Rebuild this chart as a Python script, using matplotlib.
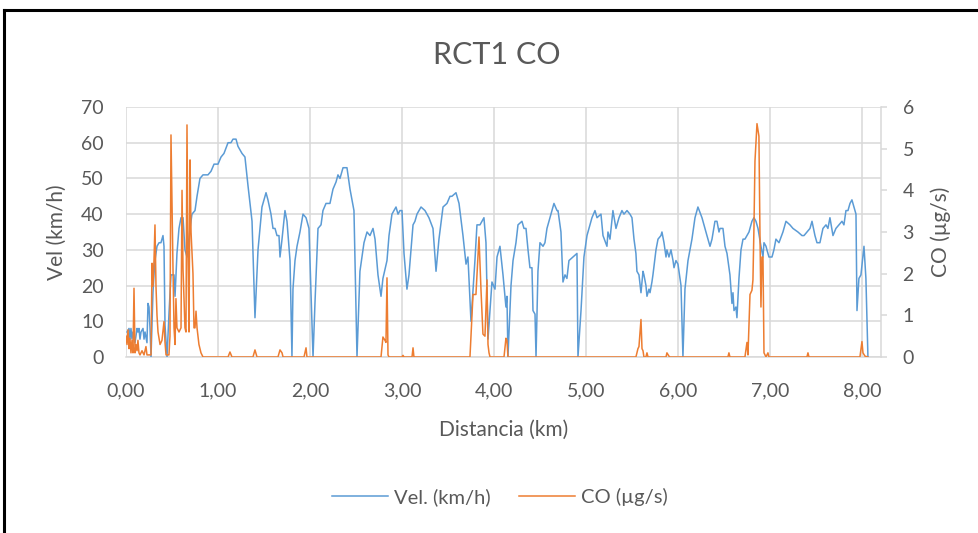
import matplotlib
matplotlib.use("Agg")
import matplotlib.pyplot as plt
from matplotlib.lines import Line2D

plt.rcParams['font.family'] = ['Lato', 'DejaVu Sans']

# Speed profile along the route
vel_km = [0.011, 0.033, 0.043, 0.054, 0.065, 0.076, 0.098, 0.120, 0.130, 0.141, 0.152, 0.163, 0.185, 0.196,
          0.207, 0.228, 0.239, 0.250, 0.261, 0.272, 0.293, 0.304, 0.315, 0.337, 0.359, 0.380, 0.402, 0.413,
          0.424, 0.446, 0.467, 0.489, 0.522, 0.533, 0.554, 0.576, 0.598, 0.620, 0.641, 0.663, 0.696, 0.717,
          0.750, 0.772, 0.804, 0.837, 0.891, 0.924, 0.957, 1.000, 1.033, 1.065, 1.109, 1.141, 1.163, 1.196,
          1.217, 1.261, 1.293, 1.326, 1.370, 1.402, 1.435, 1.478, 1.522, 1.543, 1.576, 1.598, 1.620, 1.641,
          1.663, 1.674, 1.696, 1.728, 1.750, 1.783, 1.804, 1.815, 1.837, 1.859, 1.891, 1.924, 1.957, 1.989,
          2.033, 2.054, 2.087, 2.120, 2.141, 2.174, 2.217, 2.250, 2.283, 2.304, 2.326, 2.359, 2.402, 2.435,
          2.478, 2.511, 2.543, 2.565, 2.587, 2.620, 2.652, 2.685, 2.707, 2.739, 2.772, 2.793, 2.837, 2.859,
          2.891, 2.935, 2.957, 2.978, 3.000, 3.022, 3.054, 3.076, 3.120, 3.141, 3.163, 3.207, 3.250, 3.293,
          3.337, 3.370, 3.402, 3.446, 3.489, 3.522, 3.543, 3.587, 3.620, 3.663, 3.696, 3.717, 3.750, 3.793,
          3.815, 3.848, 3.891, 3.913, 3.935, 3.978, 4.011, 4.033, 4.065, 4.098, 4.130, 4.141, 4.152, 4.185,
          4.207, 4.239, 4.261, 4.304, 4.326, 4.348, 4.370, 4.391, 4.413, 4.424, 4.446, 4.457, 4.478, 4.500,
          4.533, 4.554, 4.576, 4.609, 4.652, 4.685, 4.696, 4.728, 4.750, 4.772, 4.793, 4.815, 4.859, 4.902,
          4.913, 4.946, 4.978, 5.011, 5.065, 5.098, 5.120, 5.163, 5.185, 5.228, 5.239, 5.261, 5.293, 5.326,
          5.359, 5.391, 5.413, 5.446, 5.478, 5.500, 5.522, 5.543, 5.554, 5.576, 5.598, 5.620, 5.630, 5.652,
          5.663, 5.685, 5.696, 5.717, 5.728, 5.761, 5.783, 5.815, 5.826, 5.848, 5.870, 5.880, 5.902, 5.924,
          5.946, 5.957, 5.978, 6.000, 6.033, 6.054, 6.076, 6.109, 6.152, 6.185, 6.217, 6.261, 6.293, 6.315,
          6.348, 6.370, 6.402, 6.424, 6.446, 6.457, 6.489, 6.511, 6.533, 6.565, 6.587, 6.598, 6.609, 6.630,
          6.641, 6.663, 6.685, 6.707, 6.728, 6.750, 6.772, 6.804, 6.826, 6.848, 6.870, 6.902, 6.924, 6.935,
          6.957, 6.967, 6.989, 7.022, 7.043, 7.065, 7.098, 7.141, 7.174, 7.217, 7.250, 7.304, 7.348, 7.370,
          7.402, 7.435, 7.457, 7.489, 7.511, 7.543, 7.576, 7.609, 7.630, 7.652, 7.685, 7.717, 7.750, 7.783,
          7.804, 7.826, 7.848, 7.870, 7.891, 7.935, 7.946, 7.967, 7.989, 8.022, 8.043, 8.065]
vel_kmh = [7, 8, 5, 8, 5, 7, 4, 8, 7, 8, 5, 7, 8, 5,
           7, 4, 15, 14, 8, 0, 18, 23, 27, 31, 32, 32, 34, 31,
           9, 0, 12, 23, 23, 17, 29, 36, 39, 39, 30, 28, 36, 40,
           41, 45, 50, 51, 51, 52, 54, 54, 56, 57, 60, 60, 61, 61,
           59, 57, 56, 48, 38, 11, 30, 42, 46, 44, 40, 36, 36, 34,
           34, 28, 33, 41, 38, 27, 0, 19, 27, 31, 35, 40, 39, 36,
           0, 15, 36, 37, 41, 43, 43, 47, 49, 51, 50, 53, 53, 47,
           41, 0, 24, 28, 32, 35, 34, 36, 33, 23, 17, 22, 27, 34,
           40, 42, 40, 41, 41, 29, 19, 23, 37, 38, 40, 42, 41, 39,
           36, 24, 33, 42, 43, 45, 45, 46, 43, 34, 26, 28, 10, 27,
           37, 37, 39, 32, 5, 21, 19, 28, 31, 23, 14, 17, 0, 20,
           27, 32, 37, 38, 36, 36, 30, 25, 25, 13, 12, 0, 24, 32,
           31, 32, 36, 39, 43, 41, 41, 35, 21, 23, 22, 27, 28, 29,
           0, 13, 28, 34, 39, 41, 39, 40, 34, 31, 35, 33, 41, 36,
           39, 41, 40, 41, 40, 39, 33, 29, 24, 23, 18, 24, 23, 20,
           17, 19, 18, 21, 23, 30, 33, 34, 35, 32, 28, 30, 28, 30,
           27, 25, 27, 26, 20, 0, 19, 27, 33, 39, 42, 39, 36, 34,
           31, 33, 38, 38, 35, 36, 36, 31, 29, 23, 15, 18, 13, 14,
           11, 22, 30, 33, 33, 34, 35, 38, 39, 38, 36, 31, 28, 32,
           31, 30, 28, 28, 30, 33, 32, 35, 38, 37, 36, 35, 34, 34,
           35, 36, 38, 34, 32, 32, 36, 37, 36, 39, 34, 36, 37, 38,
           37, 41, 41, 43, 44, 40, 13, 22, 23, 31, 22, 0]

# CO emission rate along the route
co_km = [0.000, 0.011, 0.022, 0.033, 0.043, 0.054, 0.065, 0.076, 0.087, 0.098, 0.109, 0.120, 0.130, 0.141,
         0.152, 0.174, 0.196, 0.217, 0.228, 0.272, 0.283, 0.293, 0.304, 0.315, 0.326, 0.337, 0.348, 0.370,
         0.391, 0.413, 0.424, 0.435, 0.467, 0.478, 0.489, 0.511, 0.522, 0.533, 0.543, 0.554, 0.576, 0.598,
         0.609, 0.620, 0.641, 0.652, 0.663, 0.674, 0.685, 0.696, 0.707, 0.728, 0.739, 0.750, 0.761, 0.772,
         0.793, 0.815, 0.837, 1.109, 1.130, 1.152, 1.380, 1.402, 1.424, 1.652, 1.674, 1.696, 1.707, 1.935,
         1.957, 1.967, 2.772, 2.793, 2.815, 2.826, 2.837, 2.848, 2.859, 3.000, 3.011, 3.022, 3.109, 3.120,
         3.130, 3.739, 3.772, 3.804, 3.837, 3.859, 3.880, 3.902, 3.924, 3.935, 3.946, 3.957, 4.109, 4.130,
         4.141, 4.152, 5.543, 5.565, 5.576, 5.598, 5.609, 5.620, 5.630, 5.652, 5.663, 5.674, 5.870, 5.880,
         5.902, 5.913, 6.543, 6.554, 6.565, 6.728, 6.750, 6.761, 6.783, 6.804, 6.815, 6.826, 6.837, 6.859,
         6.880, 6.891, 6.902, 6.913, 6.924, 6.935, 6.957, 6.978, 6.989, 7.402, 7.413, 7.424, 7.978, 8.000,
         8.011, 8.033, 8.065]
co_ugs = [0.5, 0.3, 0.65, 0.2, 0.45, 0.1, 0.4, 0.1, 1.65, 0.1, 0.3, 0.15, 0.4, 0.1,
          0.05, 0.15, 0.05, 0.25, 0.05, 0.05, 2.25, 1.7, 2.3, 3.17, 1.7, 1.0, 0.6, 0.3,
          0.4, 0.85, 0.35, 0.05, 0.05, 0.5, 5.33, 2.1, 0.7, 0.3, 1.4, 0.7, 0.6, 0.7,
          4.0, 2.1, 0.7, 0.6, 5.57, 2.4, 0.6, 4.73, 3.0, 2.0, 0.7, 0.7, 1.1, 0.7,
          0.3, 0.1, 0.0, 0.0, 0.12, 0.0, 0.0, 0.17, 0.0, 0.0, 0.17, 0.1, 0.0, 0.0,
          0.22, 0.0, 0.0, 0.48, 0.4, 0.35, 1.9, 0.05, 0.0, 0.0, 0.04, 0.0, 0.0, 0.22,
          0.0, 0.0, 1.5, 1.5, 2.88, 1.6, 0.55, 0.5, 1.85, 0.3, 0.1, 0.0, 0.0, 0.45,
          0.4, 0.0, 0.0, 0.2, 0.25, 0.9, 0.2, 0.15, 0.0, 0.0, 0.1, 0.0, 0.0, 0.1,
          0.02, 0.0, 0.0, 0.1, 0.0, 0.0, 0.35, 0.05, 1.5, 1.6, 1.85, 3.1, 4.7, 5.6,
          5.3, 3.0, 1.2, 2.4, 2.4, 0.1, 0.0, 0.1, 0.0, 0.0, 0.1, 0.0, 0.0, 0.37,
          0.1, 0.02, 0.0]

x_ticks = [0, 1, 2, 3, 4, 5, 6, 7, 8]
x_labels = ['0,00', '1,00', '2,00', '3,00', '4,00', '5,00', '6,00', '7,00', '8,00']
vel_ticks = [0, 10, 20, 30, 40, 50, 60, 70]
co_ticks = [0, 1, 2, 3, 4, 5, 6]

TXT = '#595959'
GRID = '#D9D9D9'
BLUE = '#5B9BD5'
ORANGE = '#ED7D31'

W, H = 979, 533
fig = plt.figure(figsize=(W / 100, H / 100), dpi=100)
fig.patch.set_facecolor('white')

# chart frame (left and top edges)
fig.add_artist(Line2D([4.5 / W, 4.5 / W], [0, 1 - 9.5 / H], transform=fig.transFigure,
                      color='black', lw=2.2, solid_capstyle='projecting'))
fig.add_artist(Line2D([4.5 / W, 1.0], [1 - 9.5 / H, 1 - 9.5 / H], transform=fig.transFigure,
                      color='black', lw=2.2, solid_capstyle='projecting'))

left, right, top, bottom = 126, 881, 107, 357
ax = fig.add_axes([left / W, 1 - bottom / H, (right - left) / W, (bottom - top) / H])
ax2 = ax.twinx()

ax.plot(vel_km, vel_kmh, color=BLUE, lw=1.1, label='Vel. (km/h)', zorder=3)
ax2.plot(co_km, co_ugs, color=ORANGE, lw=1.1, label='CO (µg/s)', zorder=3)

ax.set_xlim(0, 8.207)
ax.set_ylim(0, 70)
ax2.set_ylim(0, 6)
ax.set_xticks(x_ticks)
ax.set_xticklabels(x_labels)
ax.set_yticks(vel_ticks)
ax2.set_yticks(co_ticks)

ax.grid(True, color=GRID, lw=1.1)
ax.set_axisbelow(True)

for a in (ax, ax2):
    for s in ('top', 'left'):
        a.spines[s].set_visible(False)
ax.spines['right'].set_visible(False)
ax.spines['bottom'].set_color(GRID)
ax.spines['bottom'].set_linewidth(1.1)
ax2.spines['bottom'].set_visible(False)
ax2.spines['right'].set_color(GRID)
ax2.spines['right'].set_linewidth(1.1)

ax.tick_params(axis='x', length=0, pad=18, labelsize=14, labelcolor=TXT)
ax.tick_params(axis='y', length=0, pad=16, labelsize=14, labelcolor=TXT)
ax2.tick_params(axis='y', length=4.5, width=1.1, color=GRID, pad=11, labelsize=14, labelcolor=TXT)

ax.set_xlabel('Distancia (km)', fontsize=15, color=TXT, labelpad=15)
ax.set_ylabel('Vel (km/h)', fontsize=15, color=TXT, labelpad=10)
ax2.set_ylabel('CO (µg/s)', fontsize=15, color=TXT, rotation=90, labelpad=12)

fig.text(497 / W, 1 - 55 / H, 'RCT1 CO', ha='center', va='center', fontsize=22, color=TXT)

handles = [Line2D([], [], color=BLUE, lw=1.1), Line2D([], [], color=ORANGE, lw=1.1)]
fig.legend(handles, ['Vel. (km/h)', 'CO (µg/s)'], loc='center', ncol=2, frameon=False,
           bbox_to_anchor=(500 / W, 1 - 497 / H), fontsize=14.5, labelcolor=TXT,
           handlelength=2.8, handletextpad=0.3, columnspacing=1.4)

fig.savefig('out.png', dpi=100, facecolor='white')
